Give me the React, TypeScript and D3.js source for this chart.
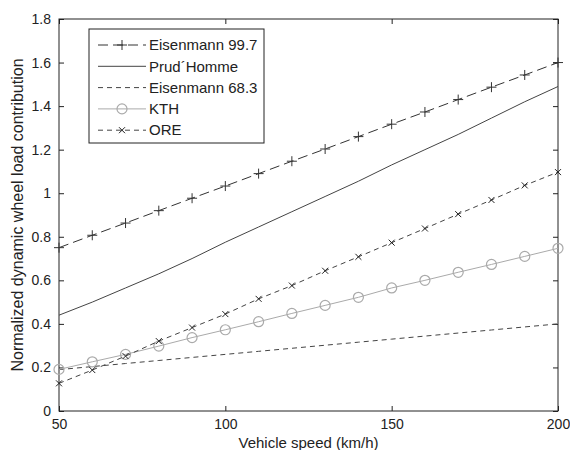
import React, { useEffect, useRef } from "react";
import { select, scaleLinear, line, axisBottom, axisLeft, axisTop, axisRight } from "d3";

const speeds = [50, 60, 70, 80, 90, 100, 110, 120, 130, 140, 150, 160, 170, 180, 190, 200];
const eisenmann997 = [0.75, 0.807, 0.863, 0.92, 0.977, 1.033, 1.09, 1.147, 1.203, 1.26, 1.317, 1.373, 1.43, 1.487, 1.543, 1.6];
const prudhomme = [0.44, 0.5, 0.565, 0.63, 0.7, 0.775, 0.845, 0.915, 0.985, 1.055, 1.13, 1.2, 1.27, 1.345, 1.42, 1.49];
const eisenmann683 = [0.19, 0.204, 0.218, 0.232, 0.246, 0.26, 0.274, 0.288, 0.302, 0.316, 0.33, 0.344, 0.358, 0.372, 0.386, 0.4];
const kth = [0.191, 0.226, 0.26, 0.298, 0.337, 0.373, 0.41, 0.448, 0.485, 0.522, 0.565, 0.6, 0.637, 0.673, 0.71, 0.747];
const ore = [0.127, 0.188, 0.252, 0.321, 0.383, 0.445, 0.515, 0.576, 0.644, 0.708, 0.773, 0.838, 0.904, 0.969, 1.036, 1.097];

const xTicks = [50, 100, 150, 200];
const yTicks = [0, 0.2, 0.4, 0.6, 0.8, 1, 1.2, 1.4, 1.6, 1.8];

const series = [
  { name: "Eisenmann 99.7", values: eisenmann997, color: "#333", dash: "10,5", marker: "plus" },
  { name: "Prud\u00b4Homme", values: prudhomme, color: "#444", dash: null, marker: null },
  { name: "Eisenmann 68.3", values: eisenmann683, color: "#444", dash: "5,4", marker: null },
  { name: "KTH", values: kth, color: "#aaa", dash: null, marker: "circle" },
  { name: "ORE", values: ore, color: "#444", dash: "5,4", marker: "x" },
];

const App = () => {
  const svgRef = useRef(null);

  useEffect(() => {
    const svg = select(svgRef.current);
    svg.selectAll("*").remove();
    const left = 59, right = 558, top = 19, bottom = 411;
    const font = "Liberation Sans, Arial, sans-serif";

    const xScale = scaleLinear().domain([50, 200]).range([left, right]);
    const yScale = scaleLinear().domain([0, 1.8]).range([bottom, top]);

    const drawMarker = (g, type, x, y, color) => {
      if (type === "plus") {
        g.append("path").attr("d", `M${x - 5},${y}H${x + 5}M${x},${y - 5}V${y + 5}`)
          .attr("stroke", color).attr("stroke-width", 1).attr("fill", "none");
      } else if (type === "circle") {
        g.append("circle").attr("cx", x).attr("cy", y).attr("r", 5)
          .attr("stroke", color).attr("stroke-width", 1.2).attr("fill", "none");
      } else if (type === "x") {
        g.append("path").attr("d", `M${x - 3},${y - 3}L${x + 3},${y + 3}M${x - 3},${y + 3}L${x + 3},${y - 3}`)
          .attr("stroke", "#222").attr("stroke-width", 1).attr("fill", "none");
      }
    };

    // box + axes
    const axisStyle = (g) => {
      g.select(".domain").remove();
      g.selectAll("line").attr("stroke", "#222");
      g.selectAll("text").attr("font-family", font).attr("font-size", 14).attr("fill", "#222");
    };
    svg.append("g").attr("transform", `translate(0,${bottom})`)
      .call(axisBottom(xScale).tickValues(xTicks).tickSizeInner(-5).tickSizeOuter(0).tickPadding(8))
      .call(axisStyle);
    svg.append("g").attr("transform", `translate(0,${top})`)
      .call(axisTop(xScale).tickValues(xTicks).tickSizeInner(-5).tickSizeOuter(0).tickFormat(() => ""))
      .call(axisStyle);
    svg.append("g").attr("transform", `translate(${left},0)`)
      .call(axisLeft(yScale).tickValues(yTicks).tickSizeInner(-5).tickSizeOuter(0).tickPadding(8).tickFormat((d) => String(d)))
      .call(axisStyle);
    svg.append("g").attr("transform", `translate(${right},0)`)
      .call(axisRight(yScale).tickValues(yTicks).tickSizeInner(-5).tickSizeOuter(0).tickFormat(() => ""))
      .call(axisStyle);
    svg.append("rect").attr("x", left).attr("y", top).attr("width", right - left).attr("height", bottom - top)
      .attr("fill", "none").attr("stroke", "#222").attr("stroke-width", 1);

    // series
    const lineGen = line().x((d) => xScale(d[0])).y((d) => yScale(d[1]));
    series.forEach((s) => {
      const pts = speeds.map((v, i) => [v, s.values[i]]);
      const g = svg.append("g");
      g.append("path").attr("d", lineGen(pts)).attr("fill", "none")
        .attr("stroke", s.color).attr("stroke-width", 1)
        .attr("stroke-dasharray", s.dash);
      if (s.marker) pts.forEach((p) => drawMarker(g, s.marker, xScale(p[0]), yScale(p[1]), s.color));
    });

    // legend
    const lg = svg.append("g");
    lg.append("rect").attr("x", 89).attr("y", 29).attr("width", 175).attr("height", 114)
      .attr("fill", "white").attr("stroke", "#222").attr("stroke-width", 1);
    series.forEach((s, i) => {
      const y = 45 + i * 21.3;
      lg.append("line").attr("x1", 98).attr("x2", 146).attr("y1", y).attr("y2", y)
        .attr("stroke", s.color).attr("stroke-width", 1).attr("stroke-dasharray", s.dash);
      if (s.marker) drawMarker(lg, s.marker, 122, y, s.color);
      lg.append("text").attr("x", 149).attr("y", y).attr("dy", "0.35em")
        .attr("font-family", font).attr("font-size", 15).attr("fill", "#222").text(s.name);
    });

    // axis labels
    svg.append("text").attr("x", (left + right) / 2).attr("y", 443).attr("dy", "0.35em")
      .attr("text-anchor", "middle").attr("font-family", font).attr("font-size", 15).attr("fill", "#222")
      .text("Vehicle speed (km/h)");
    svg.append("text").attr("transform", `translate(17,${(top + bottom) / 2}) rotate(-90)`)
      .attr("text-anchor", "middle").attr("dy", "0.35em").attr("font-family", font).attr("font-size", 16).attr("fill", "#222")
      .text("Normalized dynamic wheel load contribution");
  }, []);

  return (
    <svg ref={svgRef} width={570} height={450} style={{ position: "absolute", left: 0, top: 0, background: "white" }} />
  );
};

export default App;
